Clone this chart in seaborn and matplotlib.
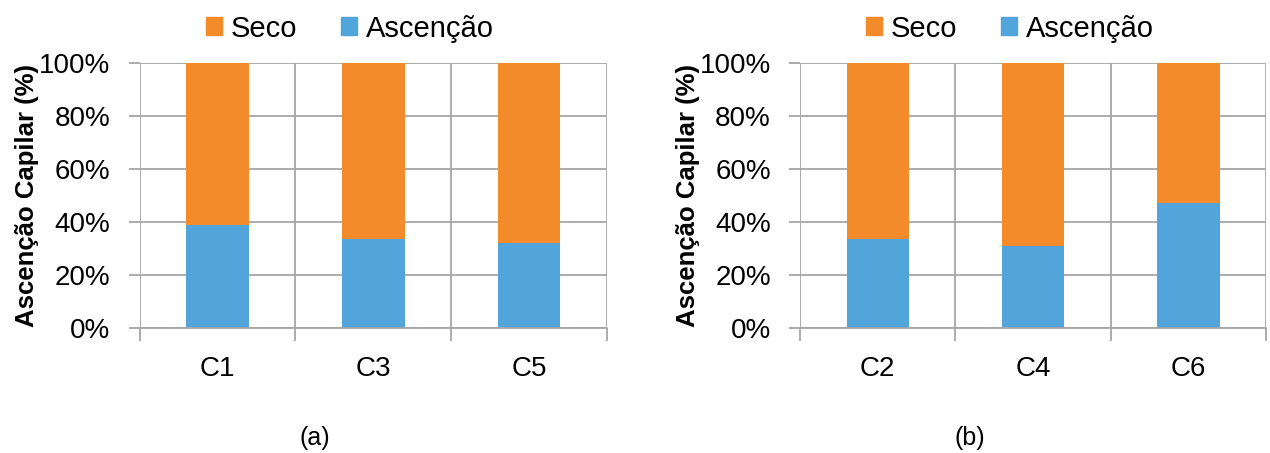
import matplotlib
matplotlib.use("Agg")
import matplotlib.pyplot as plt
import seaborn as sns
import pandas as pd
from matplotlib.patches import Patch
from matplotlib.ticker import PercentFormatter, FixedLocator

# data (% of capillary rise, rest is dry)
cats_a = ["C1", "C3", "C5"]
ascencao_a = [38.9, 33.4, 32.0]
cats_b = ["C2", "C4", "C6"]
ascencao_b = [33.5, 31.1, 47.2]
panel_labels = ["(a)", "(b)"]

orange = "#F38B2A"
blue = "#52A5DA"
grid_col = "#A6A6A6"

sns.set_theme(style="white", rc={"text.color": "black", "axes.labelcolor": "black",
                                 "xtick.color": "black", "ytick.color": "black"})
plt.rcParams["font.family"] = ["Liberation Sans", "DejaVu Sans"]

fig = plt.figure(figsize=(12.7, 4.53), dpi=100)
axes = [fig.add_axes([0.110, 0.276, 0.368, 0.585]),
        fig.add_axes([0.630, 0.276, 0.367, 0.585])]
label_x = [0.248, 0.764]

for ax, cats, asc, lab, lx in zip(axes, [cats_a, cats_b], [ascencao_a, ascencao_b],
                                  panel_labels, label_x):
    df = pd.DataFrame({"cat": cats, "total": [100] * len(cats), "asc": asc})
    # stacked look: full bar in orange, blue part on top of it
    sns.barplot(data=df, x="cat", y="total", color=orange, width=0.4,
                saturation=1, linewidth=0, ax=ax, zorder=3)
    sns.barplot(data=df, x="cat", y="asc", color=blue, width=0.4,
                saturation=1, linewidth=0, ax=ax, zorder=4)
    ax.set_xlim(-0.5, len(cats) - 0.5)
    ax.set_ylim(0, 100)
    ax.yaxis.set_major_locator(FixedLocator([0, 20, 40, 60, 80, 100]))
    ax.yaxis.set_major_formatter(PercentFormatter(decimals=0))
    ax.xaxis.set_minor_locator(FixedLocator([i - 0.5 for i in range(len(cats) + 1)]))
    ax.grid(True, axis="y", which="major", color=grid_col, lw=1.3, zorder=0)
    ax.grid(True, axis="x", which="minor", color=grid_col, lw=1.3, zorder=0)
    for s in ["left", "right", "top", "bottom"]:
        ax.spines[s].set_visible(False)
    ax.axhline(0, color=grid_col, lw=1.3, zorder=5, clip_on=False)
    ax.tick_params(axis="x", which="minor", length=9, width=1.3, color=grid_col,
                   bottom=True, direction="out")
    ax.tick_params(axis="x", which="major", length=0, pad=20, labelsize=20)
    ax.tick_params(axis="y", which="major", length=8, width=1.3, color=grid_col,
                   left=True, direction="out", pad=13, labelsize=20)
    ax.set_xlabel("")
    ax.set_ylabel("Ascenção Capilar (%)", fontsize=18.5, fontweight="bold", labelpad=0)
    fig.text(lx, 0.033, lab, ha="center", va="center", fontsize=18)
    handles = [Patch(color=orange, label="Seco"), Patch(color=blue, label="Ascenção")]
    ax.legend(handles=handles, loc="center", bbox_to_anchor=(0.45, 1.13), ncol=2,
              frameon=False, fontsize=21, handlelength=0.55, handleheight=0.55,
              handletextpad=0.3, columnspacing=1.5, borderaxespad=0, borderpad=0)

fig.savefig("out.png", dpi=100)
